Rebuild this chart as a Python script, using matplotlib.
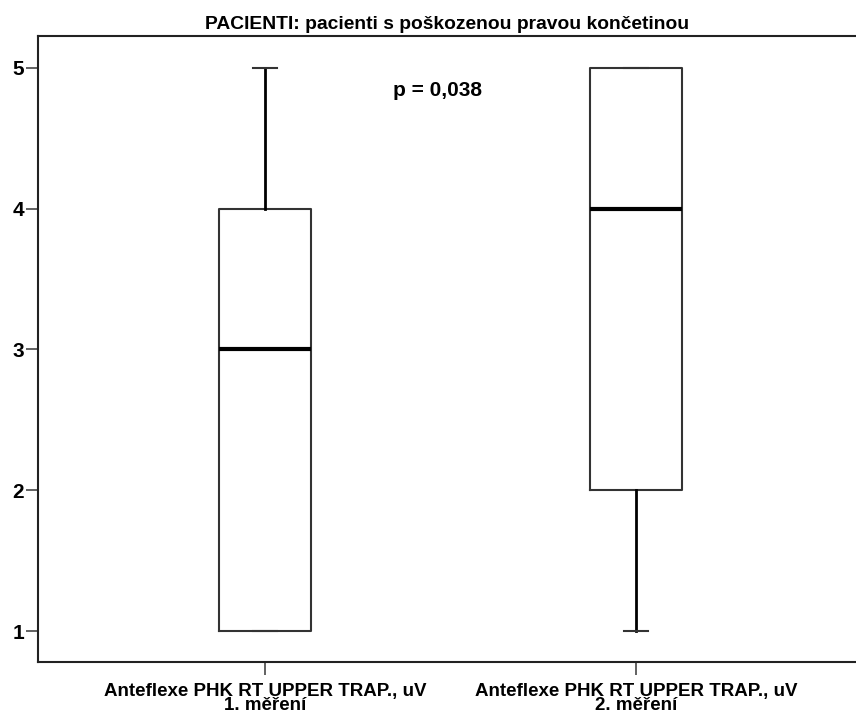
import matplotlib
matplotlib.use("Agg")
import matplotlib.pyplot as plt

plt.rcParams["font.family"] = ["Liberation Sans", "DejaVu Sans"]

categories = ["Anteflexe PHK RT UPPER TRAP., uV\n1. měření",
              "Anteflexe PHK RT UPPER TRAP., uV\n2. měření"]
whisker_low = [1, 1]
q1 = [1, 2]
median = [3, 4]
q3 = [4, 5]
whisker_high = [5, 5]
yticks = [1, 2, 3, 4, 5]
title = "PACIENTI: pacienti s poškozenou pravou končetinou"
p_text = "p = 0,038"

stats = [
    {"whislo": lo, "q1": a, "med": m, "q3": b, "whishi": hi, "fliers": []}
    for lo, a, m, b, hi in zip(whisker_low, q1, median, q3, whisker_high)
]

fig = plt.figure(figsize=(8.56, 7.15), dpi=100)
ax = fig.add_axes([38 / 856, 1 - 662 / 715, 1 - 38 / 856, (662 - 36) / 715])

ax.bxp(
    stats,
    positions=range(len(categories)),
    widths=0.25,
    showfliers=False,
    boxprops=dict(color="#333333", linewidth=1.5),
    medianprops=dict(color="black", linewidth=3),
    whiskerprops=dict(color="black", linewidth=2),
    capprops=dict(color="#333333", linewidth=1.5),
    capwidths=0.065,
)

ax.set_xlim(-0.612, 1.593)
ax.set_ylim(0.78, 5.227)
ax.set_yticks(yticks)
ax.set_yticklabels([str(t) for t in yticks], fontsize=15, fontweight="bold")
ax.set_xticks(range(len(categories)))
ax.set_xticklabels(categories, fontsize=13.5, fontweight="bold", linespacing=0.8)
ax.tick_params(axis="both", length=9, width=1.3, color="#555555")
ax.tick_params(axis="y", pad=1)
ax.tick_params(axis="x", pad=6)

for s in ["left", "top", "bottom"]:
    ax.spines[s].set_linewidth(1.5)
    ax.spines[s].set_color("#222222")
ax.spines["right"].set_visible(False)

ax.set_title(title, fontsize=13.9, fontweight="bold", pad=5)
ax.text(0.466, 4.84, p_text, fontsize=15, fontweight="bold", ha="center", va="center")

fig.savefig("out.png", dpi=100)
